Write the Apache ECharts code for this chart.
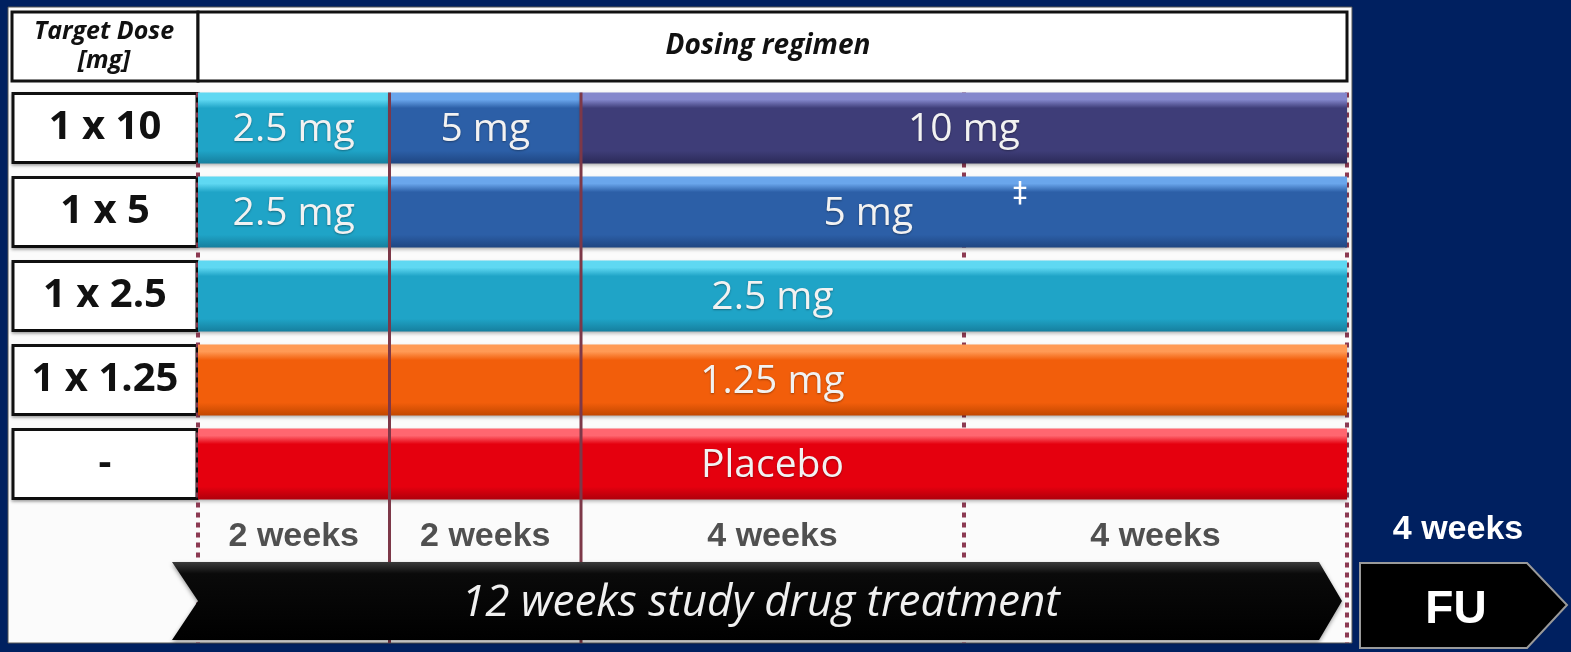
<!DOCTYPE html>
<html>
<head>
<meta charset="utf-8">
<title>Dosing regimen</title>
<script src="https://cdn.jsdelivr.net/npm/echarts@6/dist/echarts.min.js"></script>
<style>
  html, body { margin: 0; padding: 0; background: #002060; }
  #chart { width: 1571px; height: 652px; }
</style>
</head>
<body>
<div id="chart"></div>
<script>
const doseGroups = ['1 x 10', '1 x 5', '1 x 2.5', '1 x 1.25', '-']

// one entry per coloured block: row, first week, last week, daily dose
const stepRow = [0, 0, 0, 1, 1, 2, 3, 4]
const stepFrom = [0, 2, 4, 0, 2, 0, 0, 0]
const stepTo = [2, 4, 12, 2, 12, 12, 12, 12]
const stepDose = ['2.5 mg', '5 mg', '10 mg', '2.5 mg', '5 mg', '2.5 mg', '1.25 mg', 'Placebo']

const periodFrom = [0, 2, 4, 8]
const periodTo = [2, 4, 8, 12]
const periodLabels = ['2 weeks', '2 weeks', '4 weeks', '4 weeks']

const solidWeeks = [2, 4]
const dottedWeeks = [0, 8, 12]
const treatmentSpan = [0, 12]
const treatmentLabel = '12 weeks study drug treatment'
const followUpLabel = '4 weeks'

// top highlight, body, bottom shade
const doseColors = {
  '2.5 mg': ['#5fd8f2', '#1fa4c7', '#167f9e'],
  '5 mg': ['#6aa6ec', '#2c5fa7', '#1f4682'],
  '10 mg': ['#8487cc', '#3e3d78', '#2b2a58'],
  '1.25 mg': ['#ff9a55', '#f25e0b', '#c24700'],
  'Placebo': ['#ff6670', '#e5000e', '#b0000b']
}

const BAR_RATIO = 0.845
const LINE_BOTTOM = 643

const chart = echarts.init(document.getElementById('chart'))

const renderStep = (params, api) => {
  const row = api.value(0)
  const p0 = api.coord([api.value(1), row])
  const p1 = api.coord([api.value(2), row])
  const h = api.size([0, 1])[1] * BAR_RATIO
  const dose = stepDose[params.dataIndex]
  const c = doseColors[dose]
  return {
    type: 'group',
    children: [{
      type: 'rect',
      shape: { x: p0[0], y: p0[1] - h / 2, width: p1[0] - p0[0], height: h },
      style: {
        fill: new echarts.graphic.LinearGradient(0, 0, 0, 1, [
          { offset: 0, color: c[0] },
          { offset: 0.1, color: c[0] },
          { offset: 0.22, color: c[1] },
          { offset: 0.82, color: c[1] },
          { offset: 1, color: c[2] }
        ]),
        shadowBlur: 4,
        shadowOffsetY: 2,
        shadowColor: 'rgba(0,0,0,0.35)'
      }
    }, {
      type: 'text',
      style: {
        text: dose,
        x: (p0[0] + p1[0]) / 2,
        y: p0[1] + 2,
        align: 'center',
        verticalAlign: 'middle',
        fill: '#f2f2f2',
        font: '39px "Open Sans"',
        textShadowColor: 'rgba(0,0,0,0.35)',
        textShadowBlur: 2,
        textShadowOffsetY: 1
      }
    }]
  }
}

const renderLine = dashed => (params, api) => {
  const x = api.coord([api.value(0), 0])
  const h = api.size([0, 1])[1] * BAR_RATIO
  return {
    type: 'line',
    shape: { x1: x[0], y1: x[1] - h / 2, x2: x[0], y2: LINE_BOTTOM },
    style: {
      stroke: dashed ? '#8c3a52' : '#7d3848',
      lineWidth: dashed ? 4 : 3,
      lineDash: dashed ? [5, 5] : null
    }
  }
}

const renderPeriod = (params, api) => {
  const last = doseGroups.length - 1
  const p0 = api.coord([api.value(0), last])
  const p1 = api.coord([api.value(1), last])
  return {
    type: 'text',
    style: {
      text: periodLabels[params.dataIndex],
      x: (p0[0] + p1[0]) / 2,
      y: p0[1] + 73,
      align: 'center',
      verticalAlign: 'middle',
      fill: '#505050',
      font: 'bold 34px "Liberation Sans"'
    }
  }
}

const renderTreatment = (params, api) => {
  const last = doseGroups.length - 1
  const p0 = api.coord([api.value(0), last])
  const p1 = api.coord([api.value(1), last])
  const top = p0[1] + 98
  const bottom = p0[1] + 176
  const mid = (top + bottom) / 2
  return {
    type: 'group',
    children: [{
      type: 'polygon',
      shape: {
        points: [
          [p0[0] - 26, top], [p1[0] - 28, top], [p1[0] - 5, mid],
          [p1[0] - 28, bottom], [p0[0] - 26, bottom], [p0[0], mid]
        ]
      },
      style: {
        fill: new echarts.graphic.LinearGradient(0, 0, 0, 1, [
          { offset: 0, color: '#3a3a3a' },
          { offset: 0.15, color: '#0a0a0a' },
          { offset: 1, color: '#000' }
        ]),
        shadowBlur: 4,
        shadowOffsetY: 2,
        shadowColor: 'rgba(0,0,0,0.4)'
      }
    }, {
      type: 'text',
      style: {
        text: treatmentLabel,
        x: (p0[0] + p1[0]) / 2 - 12,
        y: mid + 2,
        align: 'center',
        verticalAlign: 'middle',
        fill: '#f0f0f0',
        font: 'italic 44px "Open Sans"'
      }
    }]
  }
}

chart.setOption({
  backgroundColor: '#002060',
  animation: false,
  grid: { left: 198, right: 224, top: 86, height: 420 },
  xAxis: { type: 'value', min: 0, max: 12, show: false },
  yAxis: {
    type: 'category',
    data: doseGroups,
    inverse: true,
    axisLine: { show: false },
    axisTick: { show: false },
    axisLabel: {
      margin: 93,
      align: 'center',
      width: 181,
      height: 66,
      lineHeight: 66,
      backgroundColor: '#fff',
      borderColor: '#111',
      borderWidth: 3,
      shadowColor: 'rgba(0,0,0,0.3)',
      shadowBlur: 3,
      shadowOffsetY: 2,
      color: '#111',
      fontSize: 40,
      fontWeight: 'bold',
      fontFamily: 'Open Sans'
    }
  },
  graphic: [
    { type: 'rect', z: -10, shape: { x: 8, y: 7, width: 1344, height: 636 }, style: { fill: '#fbfbfb', stroke: '#555', lineWidth: 1 } },
    { type: 'rect', z: 1, shape: { x: 12, y: 12, width: 186, height: 69 }, style: { fill: '#fff', stroke: '#111', lineWidth: 3 } },
    { type: 'rect', z: 1, shape: { x: 198, y: 12, width: 1149, height: 69 }, style: { fill: '#fff', stroke: '#111', lineWidth: 3 } },
    { type: 'text', z: 2, style: { text: 'Target Dose\n[mg]', x: 104, y: 46, align: 'center', verticalAlign: 'middle', lineHeight: 29, fill: '#111', font: 'italic bold 25px "Open Sans"' } },
    { type: 'text', z: 2, style: { text: 'Dosing regimen', x: 768, y: 46, align: 'center', verticalAlign: 'middle', fill: '#111', font: 'italic bold 28px "Open Sans"' } },
    { type: 'text', z: 10, style: { text: '‡', x: 1020, y: 195, align: 'center', verticalAlign: 'middle', fill: '#fff', font: '28px "DejaVu Sans"' } },
    { type: 'text', z: 2, style: { text: followUpLabel, x: 1458, y: 530, align: 'center', verticalAlign: 'middle', fill: '#fff', font: 'bold 34px "Liberation Sans"' } },
    {
      type: 'polygon', z: 2,
      shape: { points: [[1360, 563], [1527, 563], [1567, 605], [1527, 648], [1360, 648]] },
      style: { fill: '#000', stroke: '#9a9a9a', lineWidth: 2 }
    },
    { type: 'text', z: 3, style: { text: 'FU', x: 1456, y: 610, align: 'center', verticalAlign: 'middle', fill: '#fff', font: 'bold 46px "Liberation Sans"' } }
  ],
  series: [{
    type: 'custom',
    name: 'dotted',
    z: 1,
    renderItem: renderLine(true),
    encode: { x: 0 },
    data: dottedWeeks.map(w => [w])
  }, {
    type: 'custom',
    name: 'dose',
    z: 3,
    renderItem: renderStep,
    encode: { x: [1, 2], y: 0 },
    data: stepRow.map((r, i) => [r, stepFrom[i], stepTo[i]])
  }, {
    type: 'custom',
    name: 'solid',
    z: 4,
    renderItem: renderLine(false),
    encode: { x: 0 },
    data: solidWeeks.map(w => [w])
  }, {
    type: 'custom',
    name: 'periods',
    z: 3,
    renderItem: renderPeriod,
    encode: { x: [0, 1] },
    data: periodFrom.map((f, i) => [f, periodTo[i]])
  }, {
    type: 'custom',
    name: 'treatment',
    z: 5,
    renderItem: renderTreatment,
    encode: { x: [0, 1] },
    data: [treatmentSpan]
  }]
})

window.addEventListener('resize', () => {
  chart.resize()
})
</script>
</body>
</html>
